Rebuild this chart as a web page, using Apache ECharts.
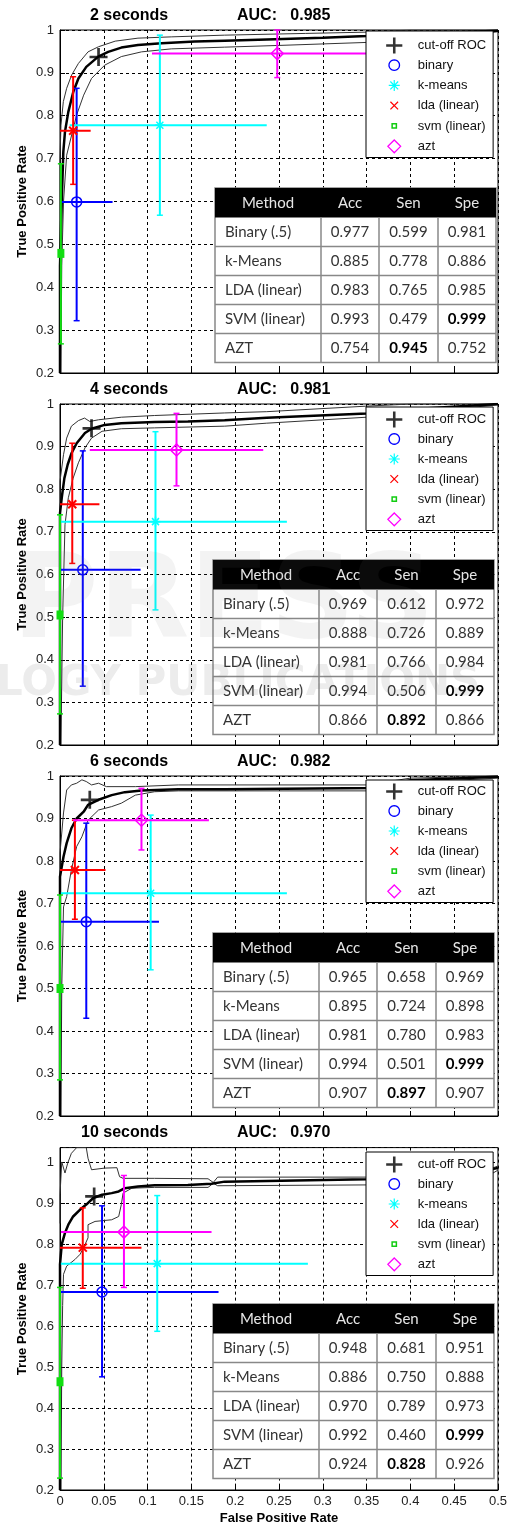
<!DOCTYPE html>
<html>
<head>
<meta charset="utf-8">
<script src="https://cdn.jsdelivr.net/npm/echarts@6/dist/echarts.min.js"></script>
<style>
  html, body { margin: 0; padding: 0; background: #fff; }
  #main { width: 510px; height: 1526px; }
</style>
</head>
<body>
<div id="main"></div>
<script>
// ---- data ----
const panelTitles = ['2 seconds', '4 seconds', '6 seconds', '10 seconds'];
const aucValues = ['0.985', '0.981', '0.982', '0.970'];
const legendNames = ['cut-off ROC', 'binary', 'k-means', 'lda (linear)', 'svm (linear)', 'azt'];
const methodNames = ['binary', 'k-means', 'lda (linear)', 'svm (linear)', 'azt'];
const tableHeader = ['Method', 'Acc', 'Sen', 'Spe'];
const tableMethods = ['Binary (.5)', 'k-Means', 'LDA (linear)', 'SVM (linear)', 'AZT'];

const acc2s = [0.977, 0.885, 0.983, 0.993, 0.754];
const sen2s = [0.599, 0.778, 0.765, 0.479, 0.945];
const spe2s = [0.981, 0.886, 0.985, 0.999, 0.752];
const acc4s = [0.969, 0.888, 0.981, 0.994, 0.866];
const sen4s = [0.612, 0.726, 0.766, 0.506, 0.892];
const spe4s = [0.972, 0.889, 0.984, 0.999, 0.866];
const acc6s = [0.965, 0.895, 0.981, 0.994, 0.907];
const sen6s = [0.658, 0.724, 0.780, 0.501, 0.897];
const spe6s = [0.969, 0.898, 0.983, 0.999, 0.907];
const acc10s = [0.948, 0.886, 0.970, 0.992, 0.924];
const sen10s = [0.681, 0.750, 0.789, 0.460, 0.828];
const spe10s = [0.951, 0.888, 0.973, 0.999, 0.926];

// ROC curve [fpr, tpr] with upper / lower bounds
const roc2s = [[0,0.2],[0,0.45],[0.002,0.6],[0.0038,0.716],[0.0057,0.763],[0.0095,0.809],[0.0152,0.856],[0.021,0.887],[0.030,0.914],[0.0437,0.938],[0.055,0.949],[0.070,0.959],[0.089,0.965],[0.116,0.969],[0.154,0.973],[0.188,0.975],[0.236,0.978],[0.30,0.982],[0.35,0.986],[0.42,0.992],[0.5,0.998]];
const upper2s = [[0,0.45],[0,0.7],[0.0011,0.778],[0.0038,0.833],[0.0076,0.864],[0.0133,0.895],[0.021,0.922],[0.032,0.949],[0.044,0.961],[0.063,0.974],[0.089,0.981],[0.127,0.984],[0.188,0.988],[0.28,0.992],[0.35,0.995],[0.40,1.0],[0.5,1.0]];
const lower2s = [[0.001,0.2],[0.002,0.45],[0.004,0.6],[0.0076,0.708],[0.0133,0.755],[0.019,0.802],[0.027,0.848],[0.036,0.887],[0.051,0.918],[0.070,0.938],[0.093,0.949],[0.127,0.956],[0.188,0.960],[0.25,0.964],[0.35,0.971],[0.42,0.98],[0.5,0.996]];

const roc4s = [[0,0.2],[0,0.744],[0.002,0.780],[0.005,0.826],[0.0088,0.858],[0.0133,0.885],[0.019,0.908],[0.0285,0.932],[0.036,0.942],[0.051,0.951],[0.070,0.955],[0.108,0.958],[0.146,0.959],[0.188,0.962],[0.236,0.968],[0.35,0.978],[0.42,0.99],[0.5,1.0]];
const upper4s = [[0,0.6],[0,0.819],[0.004,0.881],[0.0076,0.920],[0.013,0.948],[0.021,0.961],[0.028,0.967],[0.034,0.959],[0.044,0.963],[0.070,0.969],[0.108,0.973],[0.188,0.979],[0.236,0.982],[0.35,0.995],[0.40,1.0],[0.5,1.0]];
const lower4s = [[0.001,0.2],[0.003,0.5],[0.0057,0.717],[0.0095,0.780],[0.015,0.826],[0.021,0.862],[0.0285,0.897],[0.036,0.920],[0.048,0.936],[0.070,0.942],[0.108,0.944],[0.188,0.948],[0.236,0.955],[0.35,0.969],[0.5,0.998]];

const roc6s = [[0,0.2],[0,0.763],[0.004,0.810],[0.0076,0.842],[0.013,0.877],[0.019,0.900],[0.027,0.916],[0.032,0.932],[0.044,0.944],[0.059,0.955],[0.074,0.962],[0.093,0.966],[0.135,0.969],[0.188,0.969],[0.36,0.972],[0.40,0.99],[0.5,0.998]];
const upper6s = [[0,0.5],[0,0.819],[0.004,0.913],[0.0076,0.967],[0.013,0.979],[0.019,0.983],[0.025,0.991],[0.030,0.987],[0.036,0.979],[0.044,0.983],[0.053,0.975],[0.086,0.975],[0.135,0.979],[0.35,0.979],[0.40,0.995],[0.5,1.0]];
const lower6s = [[0.001,0.2],[0.002,0.5],[0.004,0.692],[0.0076,0.716],[0.013,0.779],[0.019,0.834],[0.025,0.857],[0.032,0.896],[0.044,0.920],[0.059,0.928],[0.070,0.936],[0.086,0.955],[0.108,0.963],[0.135,0.965],[0.35,0.965],[0.40,0.985],[0.5,0.995]];

const roc10s = [[0,0.2],[0,0.75],[0.002,0.799],[0.0057,0.827],[0.0095,0.847],[0.015,0.867],[0.023,0.884],[0.030,0.896],[0.038,0.912],[0.048,0.920],[0.059,0.924],[0.067,0.928],[0.074,0.936],[0.089,0.940],[0.108,0.943],[0.146,0.944],[0.173,0.947],[0.188,0.952],[0.35,0.958],[0.48,0.965],[0.485,0.98],[0.5,0.985]];
const upper10s = [[0,0.85],[0,0.92],[0.002,1.0],[0.0057,0.973],[0.0088,0.997],[0.013,1.021],[0.019,1.035],[0.030,1.035],[0.032,1.009],[0.036,0.981],[0.051,0.985],[0.065,0.986],[0.068,0.964],[0.072,0.960],[0.108,0.960],[0.169,0.959],[0.175,0.950],[0.18,0.963],[0.35,0.963],[0.48,0.975],[0.5,0.99]];
const lower10s = [[0.001,0.2],[0.002,0.5],[0.003,0.65],[0.004,0.726],[0.0076,0.746],[0.017,0.762],[0.023,0.775],[0.027,0.791],[0.032,0.815],[0.032,0.847],[0.040,0.855],[0.059,0.859],[0.067,0.867],[0.070,0.896],[0.072,0.924],[0.082,0.936],[0.108,0.938],[0.169,0.938],[0.175,0.948],[0.18,0.942],[0.35,0.944],[0.48,0.955],[0.5,0.98]];

// cut-off point on each ROC
const cutoffPoints = [[0.044, 0.937], [0.036, 0.943], [0.034, 0.944], [0.039, 0.916]];

// error bars per method: [fpr, tpr, fprLow, fprHigh, tprLow, tprHigh]
const bars2s = [
  [0.019, 0.599, 0, 0.060, 0.322, 0.864],
  [0.114, 0.778, 0.011, 0.236, 0.568, 0.988],
  [0.015, 0.765, 0, 0.035, 0.640, 0.891],
  [0.001, 0.479, 0, 0.002, 0.268, 0.688],
  [0.248, 0.945, 0.105, 0.39, 0.889, 1.0]
];
const bars4s = [
  [0.026, 0.611, 0, 0.092, 0.338, 0.890],
  [0.109, 0.724, 0.001, 0.259, 0.517, 0.935],
  [0.014, 0.765, 0, 0.045, 0.626, 0.908],
  [0, 0.505, 0, 0.002, 0.273, 0.74],
  [0.133, 0.892, 0.034, 0.232, 0.808, 0.978]
];
const bars6s = [
  [0.030, 0.657, 0, 0.113, 0.430, 0.889],
  [0.1035, 0.724, 0.001, 0.259, 0.544, 0.908],
  [0.017, 0.779, 0, 0.052, 0.663, 0.896],
  [0, 0.500, 0, 0.002, 0.285, 0.72],
  [0.093, 0.896, 0.015, 0.170, 0.826, 0.971]
];
const bars10s = [
  [0.048, 0.683, 0, 0.181, 0.476, 0.893],
  [0.111, 0.752, 0.001, 0.283, 0.587, 0.918],
  [0.026, 0.791, 0, 0.093, 0.692, 0.888],
  [0, 0.464, 0, 0.002, 0.229, 0.694],
  [0.073, 0.829, 0.001, 0.173, 0.694, 0.967]
];

// ---- layout ----
const gridTops = [30, 404, 776, 1147.6];
const gridHeights = [343, 341, 340, 344.4];
const yMaxs = [1, 1, 1, 1.035];
const titleTops = [8, 382, 754, 1125];
const legendTops = [31, 407, 780, 1152];
const legendPadTop = [6, 4, 3, 4];
const tableTops = [188, 560, 933, 1304];
const tableLefts = [215, 213, 213, 213];
const colWidths = [106, 58, 59, 58];

const methodColors = ['#0000ff', '#00ffff', '#ff0000', '#11dd11', '#ff00ff'];
const methodKinds = ['circle', 'star', 'x', 'square', 'diamond'];

const panels = [
  { roc: roc2s, upper: upper2s, lower: lower2s, bars: bars2s, cols: [acc2s, sen2s, spe2s] },
  { roc: roc4s, upper: upper4s, lower: lower4s, bars: bars4s, cols: [acc4s, sen4s, spe4s] },
  { roc: roc6s, upper: upper6s, lower: lower6s, bars: bars6s, cols: [acc6s, sen6s, spe6s] },
  { roc: roc10s, upper: upper10s, lower: lower10s, bars: bars10s, cols: [acc10s, sen10s, spe10s] }
];

const FONT = 'Liberation Sans';
const TFONT = 'Lato';

function markerShape(kind, c, col) {
  const x = c[0], y = c[1];
  const st = { stroke: col, lineWidth: 1.5, fill: null };
  if (kind === 'circle') {
    return { type: 'circle', shape: { cx: x, cy: y, r: 5 }, style: { stroke: col, lineWidth: 1.5, fill: 'rgba(0,0,0,0)' } };
  }
  if (kind === 'star') {
    return { type: 'group', children: [
      { type: 'line', shape: { x1: x - 5, y1: y, x2: x + 5, y2: y }, style: st },
      { type: 'line', shape: { x1: x, y1: y - 5, x2: x, y2: y + 5 }, style: st },
      { type: 'line', shape: { x1: x - 3.5, y1: y - 3.5, x2: x + 3.5, y2: y + 3.5 }, style: st },
      { type: 'line', shape: { x1: x + 3.5, y1: y - 3.5, x2: x - 3.5, y2: y + 3.5 }, style: st }
    ] };
  }
  if (kind === 'x') {
    return { type: 'group', children: [
      { type: 'line', shape: { x1: x - 4, y1: y - 4, x2: x + 4, y2: y + 4 }, style: { stroke: col, lineWidth: 2 } },
      { type: 'line', shape: { x1: x + 4, y1: y - 4, x2: x - 4, y2: y + 4 }, style: { stroke: col, lineWidth: 2 } }
    ] };
  }
  if (kind === 'square') {
    return { type: 'rect', shape: { x: x - 3.5, y: y - 4.5, width: 7, height: 9 }, style: { fill: col } };
  }
  return { type: 'polygon', shape: { points: [[x, y - 6], [x + 6, y], [x, y + 6], [x - 6, y]] },
           style: { stroke: col, lineWidth: 1.5, fill: 'rgba(0,0,0,0)' } };
}

function barRenderer(kind) {
  return function (params, api) {
    const vx = api.value(0), vy = api.value(1);
    const c = api.coord([vx, vy]);
    const l = api.coord([api.value(2), vy]);
    const r = api.coord([api.value(3), vy]);
    const t = api.coord([vx, api.value(5)]);
    const b = api.coord([vx, api.value(4)]);
    const col = api.visual('color');
    const st = { stroke: col, lineWidth: 2 };
    const capSt = { stroke: col, lineWidth: 1.5 };
    return { type: 'group', children: [
      { type: 'line', shape: { x1: l[0], y1: c[1], x2: r[0], y2: c[1] }, style: st },
      { type: 'line', shape: { x1: c[0], y1: t[1], x2: c[0], y2: b[1] }, style: st },
      { type: 'line', shape: { x1: c[0] - 3, y1: t[1], x2: c[0] + 3, y2: t[1] }, style: capSt },
      { type: 'line', shape: { x1: c[0] - 3, y1: b[1], x2: c[0] + 3, y2: b[1] }, style: capSt },
      markerShape(kind, c, col)
    ] };
  };
}

function circlePath(cx, cy, r) {
  let s = '';
  for (let k = 0; k < 24; k++) {
    const a = k / 24 * Math.PI * 2;
    s += (k === 0 ? 'M' : 'L') + (cx + r * Math.cos(a)).toFixed(2) + ',' + (cy + r * Math.sin(a)).toFixed(2);
  }
  return s + 'Z';
}

const box = 'M0,0M20,20';
const legendIcons = [
  { icon: 'path://' + box + 'M8.5,0.5h3v8h8v3h-8v8h-3v-8h-8v-3h8z', itemStyle: { color: '#000' } },
  { icon: 'path://' + box + circlePath(10, 10, 6.2), itemStyle: { color: 'rgba(0,0,0,0)', borderColor: '#0000ff', borderWidth: 1.3 } },
  { icon: 'path://' + box + 'M3.5,10L16.5,10M10,3.5L10,16.5M5.4,5.4L14.6,14.6M14.6,5.4L5.4,14.6', itemStyle: { color: 'rgba(0,0,0,0)', borderColor: '#00ffff', borderWidth: 1.2 } },
  { icon: 'path://' + box + 'M5.5,5.5L14.5,14.5M14.5,5.5L5.5,14.5', itemStyle: { color: 'rgba(0,0,0,0)', borderColor: '#ff0000', borderWidth: 1.2 } },
  { icon: 'path://' + box + 'M7.5,7.5L12.5,7.5L12.5,12.5L7.5,12.5Z', itemStyle: { color: 'rgba(0,0,0,0)', borderColor: '#11cc11', borderWidth: 1.5 } },
  { icon: 'path://' + box + 'M10,2.5L17.5,10L10,17.5L2.5,10Z', itemStyle: { color: 'rgba(0,0,0,0)', borderColor: '#ff00ff', borderWidth: 1.3 } }
];

const grid = [], xAxis = [], yAxis = [], series = [], title = [], legend = [], graphic = [];

panels.forEach(function (p, i) {
  grid.push({ left: 60, width: 438, top: gridTops[i], height: gridHeights[i],
              show: true, borderColor: '#000', borderWidth: 1 });
  xAxis.push({
    type: 'value', gridIndex: i, min: 0, max: 0.5, interval: 0.05,
    name: i === 3 ? 'False Positive Rate' : '', nameLocation: 'middle', nameGap: 22, nameMoveOverlap: false,
    nameTextStyle: { fontFamily: FONT, fontWeight: 'bold', fontSize: 13, color: '#000' },
    axisLine: { show: true, onZero: false, lineStyle: { color: '#000', width: 1 } },
    axisTick: { show: true, inside: true, length: 5, lineStyle: { color: '#000' } },
    axisLabel: { show: i === 3, fontFamily: FONT, fontSize: 13, color: '#222', margin: 5,
                 formatter: function (v) { return String(+v.toFixed(2)); } },
    splitLine: { show: true, lineStyle: { color: '#000', type: [3, 3], width: 1 } }
  });
  yAxis.push({
    type: 'value', gridIndex: i, min: 0.2, max: yMaxs[i], interval: 0.1,
    name: 'True Positive Rate', nameLocation: 'middle', nameGap: 31, nameRotate: 90, nameMoveOverlap: false,
    nameTextStyle: { fontFamily: FONT, fontWeight: 'bold', fontSize: 13, color: '#000' },
    axisLine: { show: true, onZero: false, lineStyle: { color: '#000', width: 1 } },
    axisTick: { show: true, inside: true, length: 5, lineStyle: { color: '#000' } },
    axisLabel: { fontFamily: FONT, fontSize: 13, color: '#222', margin: 6, showMaxLabel: i < 3,
                 formatter: function (v) { return Math.abs(v - 1) < 1e-6 ? '1' : v.toFixed(1); } },
    splitLine: { show: true, lineStyle: { color: '#000', type: [3, 3], width: 1 } }
  });

  const lineBase = { type: 'line', xAxisIndex: i, yAxisIndex: i, symbol: 'none', silent: true, animation: false };
  series.push(Object.assign({}, lineBase, { name: 'upper ' + i, data: p.upper, z: 2, lineStyle: { color: '#333', width: 1 } }));
  series.push(Object.assign({}, lineBase, { name: 'lower ' + i, data: p.lower, z: 2, lineStyle: { color: '#333', width: 1 } }));
  series.push(Object.assign({}, lineBase, { name: 'roc ' + i, data: p.roc, z: 2, lineStyle: { color: '#000', width: 2.5 } }));

  p.bars.forEach(function (b, m) {
    series.push({
      type: 'custom', name: methodNames[m], xAxisIndex: i, yAxisIndex: i, z: 3,
      itemStyle: { color: methodColors[m] }, animation: false, silent: true,
      encode: { x: 0, y: 1 },
      renderItem: barRenderer(methodKinds[m]),
      data: [b]
    });
  });

  series.push({
    type: 'scatter', name: 'cut-off ROC', xAxisIndex: i, yAxisIndex: i, z: 4, silent: true, animation: false,
    symbol: 'path://M8.5,0h3v8.5h8.5v3h-8.5v8.5h-3v-8.5h-8.5v-3h8.5z', symbolSize: 18,
    itemStyle: { color: '#000' }, data: [cutoffPoints[i]]
  });

  title.push({ text: panelTitles[i], left: i === 3 ? 81 : 90, top: titleTops[i], padding: 0,
               textStyle: { fontFamily: FONT, fontWeight: 'bold', fontSize: 16, color: '#000' } });
  title.push({ text: 'AUC:   ' + aucValues[i], left: 237, top: titleTops[i], padding: 0,
               textStyle: { fontFamily: FONT, fontWeight: 'bold', fontSize: 16, color: '#000' } });

  legend.push({
    left: 366, top: legendTops[i], orient: 'vertical', itemWidth: 19, itemHeight: 17,
    itemGap: i === 0 ? 2 : 1.8, padding: [legendPadTop[i], 7, 2, 19],
    backgroundColor: '#fff', borderColor: '#000', borderWidth: 1, borderRadius: 0, z: 10,
    selectedMode: false,
    textStyle: { fontFamily: FONT, fontSize: 13, color: '#111', padding: [0, 0, 0, 9] },
    data: legendNames.map(function (n, k) {
      return { name: n, icon: legendIcons[k].icon, itemStyle: legendIcons[k].itemStyle };
    })
  });

  // results table, drawn above the plot
  const top = tableTops[i], left = tableLefts[i];
  const headH = 29.5, rowH = 29, TZ = 100;
  const totalW = colWidths.reduce(function (a, b) { return a + b; }, 0);
  const totalH = headH + 5 * rowH;
  const kids = [];
  kids.push({ type: 'rect', z: TZ, shape: { x: left, y: top, width: totalW, height: totalH },
              style: { fill: '#fff', stroke: '#888', lineWidth: 1.5 } });
  kids.push({ type: 'rect', z: TZ + 1, shape: { x: left, y: top, width: totalW, height: headH }, style: { fill: '#000' } });
  let cx = left;
  const colX = [];
  colWidths.forEach(function (w) { colX.push(cx); cx += w; });
  tableHeader.forEach(function (h, c) {
    kids.push({ type: 'text', z: TZ + 2, x: colX[c] + colWidths[c] / 2, y: top + headH / 2,
                style: { text: h, fill: '#e6e6e6', font: '15px "' + TFONT + '"', align: 'center', verticalAlign: 'middle' } });
  });
  for (let r = 0; r < 5; r++) {
    const ry = top + headH + r * rowH;
    if (r > 0) {
      kids.push({ type: 'line', z: TZ + 1, shape: { x1: left, y1: ry, x2: left + totalW, y2: ry }, style: { stroke: '#888', lineWidth: 1.5 } });
    }
    kids.push({ type: 'text', z: TZ + 2, x: colX[0] + 10, y: ry + rowH / 2,
                style: { text: tableMethods[r], fill: '#333', font: '15px "' + TFONT + '"', align: 'left', verticalAlign: 'middle' } });
    for (let c = 0; c < 3; c++) {
      const bold = (r === 3 && c === 2) || (r === 4 && c === 1);
      kids.push({ type: 'text', z: TZ + 2, x: colX[c + 1] + colWidths[c + 1] / 2, y: ry + rowH / 2,
                  style: { text: p.cols[c][r].toFixed(3), fill: bold ? '#000' : '#333',
                           font: (bold ? 'bold ' : '') + '15px "' + TFONT + '"', align: 'center', verticalAlign: 'middle' } });
    }
  }
  for (let c = 1; c < 4; c++) {
    kids.push({ type: 'line', z: TZ + 1, shape: { x1: colX[c], y1: top + headH, x2: colX[c], y2: top + totalH }, style: { stroke: '#888', lineWidth: 1.5 } });
  }
  kids.forEach(function (k) { graphic.push(k); });
});

// faint publisher watermark lying over the figure
graphic.push({ type: 'text', z: 200, silent: true, x: -4, y: 684,
               style: { text: 'LOGY PUBLICATIONS', fill: 'rgba(120,120,120,0.14)', font: 'bold 42px "DejaVu Sans"', verticalAlign: 'middle' } });
graphic.push({ type: 'text', z: 200, silent: true, x: 12, y: 606,
               style: { text: 'PRESS', fill: 'rgba(120,120,120,0.09)', font: 'bold 118px "DejaVu Sans"', verticalAlign: 'middle' } });

const chart = echarts.init(document.getElementById('main'), null, { renderer: 'canvas' });
chart.setOption({
  animation: false,
  backgroundColor: '#fff',
  title: title,
  legend: legend,
  grid: grid,
  xAxis: xAxis,
  yAxis: yAxis,
  series: series,
  graphic: graphic
});
</script>
</body>
</html>
